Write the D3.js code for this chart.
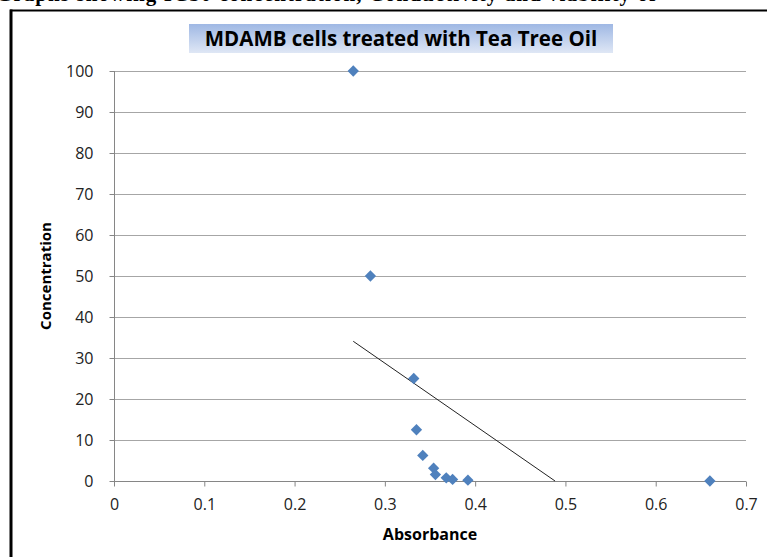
<!DOCTYPE html>
<html>
<head>
<meta charset="utf-8">
<script src="https://cdn.jsdelivr.net/npm/d3@7"></script>
<style>
  body { margin: 0; background: #fff; }
  svg { display: block; }
  text { font-family: "Open Sans", Lato, sans-serif; }
</style>
</head>
<body>
<div id="chart"></div>
<script>
// Absorbance readings and matching concentrations
const absorbance = [0.265, 0.284, 0.332, 0.335, 0.342, 0.354, 0.356, 0.368, 0.375, 0.392, 0.660];
const concentration = [100, 50, 25, 12.5, 6.25, 3.125, 1.5625, 0.78, 0.39, 0.195, 0];
const xTicks = [0, 0.1, 0.2, 0.3, 0.4, 0.5, 0.6, 0.7];
const yTicks = [0, 10, 20, 30, 40, 50, 60, 70, 80, 90, 100];

const chartTitle = "MDAMB cells treated with Tea Tree Oil";
const captionText = "Graphs showing IC50 concentration, Conductivity and viability of";

const W = 767, H = 557;
const margin = { top: 71, left: 114, right: 21, bottom: 76 };
const width = W - margin.left - margin.right,
  height = H - margin.top - margin.bottom;

const svg = d3.select("#chart")
  .append("svg")
  .attr("width", W)
  .attr("height", H);

// caption line of the page, cut off at the top
svg.append("text")
  .attr("x", -4)
  .attr("y", 1)
  .attr("textLength", 660)
  .style("font-family", "'Liberation Serif', serif")
  .style("font-weight", "bold")
  .style("font-size", "21px")
  .text(captionText);

// frame of the chart object
svg.append("line")
  .attr("x1", 10).attr("x2", W).attr("y1", 10.5).attr("y2", 10.5)
  .attr("stroke", "#000").attr("stroke-width", 2);
svg.append("line")
  .attr("x1", 11).attr("x2", 11).attr("y1", 9.5).attr("y2", H)
  .attr("stroke", "#000").attr("stroke-width", 3);

// title with gradient box
const grad = svg.append("defs").append("linearGradient")
  .attr("id", "titleGrad")
  .attr("x1", 0).attr("y1", 0).attr("x2", 0).attr("y2", 1);
grad.append("stop").attr("offset", "0%").attr("stop-color", "#9fb8e4");
grad.append("stop").attr("offset", "100%").attr("stop-color", "#dfe7f5");

svg.append("rect")
  .attr("x", 189).attr("y", 24)
  .attr("width", 424).attr("height", 29)
  .attr("fill", "url(#titleGrad)");

svg.append("text")
  .attr("x", 401)
  .attr("y", 46)
  .attr("text-anchor", "middle")
  .style("font-weight", "bold")
  .style("font-size", "20.5px")
  .style("fill", "#000")
  .text(chartTitle);

const g = svg.append("g")
  .attr("transform", "translate(" + margin.left + "," + margin.top + ")");

const xScale = d3.scaleLinear().domain([0, 0.7]).range([0, width]);
const yScale = d3.scaleLinear().domain([0, 100]).range([height, 0]);

// gridlines
g.append("g")
  .selectAll("line")
  .data(yTicks.filter(d => d > 0))
  .join("line")
  .attr("x1", 0).attr("x2", width)
  .attr("y1", d => Math.round(yScale(d)) + 0.5)
  .attr("y2", d => Math.round(yScale(d)) + 0.5)
  .attr("stroke", "#a6a6a6");

// X axis
const xAxis = g.append("g")
  .attr("transform", "translate(0," + (Math.round(height) + 0.5) + ")")
  .call(d3.axisBottom(xScale).tickValues(xTicks).tickSize(5).tickPadding(12)
    .tickFormat(d => d === 0 ? "0" : d3.format(".1f")(d)));
xAxis.select(".domain").attr("stroke", "#868686").attr("d", "M0,0H" + width);
xAxis.selectAll(".tick line").attr("stroke", "#868686");
xAxis.selectAll("text")
  .style("font-size", "16px")
  .style("font-family", "'Open Sans', Lato, sans-serif")
  .style("fill", "#222");

xAxis.append("text")
  .attr("x", width / 2)
  .attr("y", 58)
  .attr("text-anchor", "middle")
  .style("font-size", "16px")
  .style("font-weight", "bold")
  .style("fill", "#000")
  .text("Absorbance");

// Y axis
const yAxis = g.append("g")
  .attr("transform", "translate(0.5,0)")
  .call(d3.axisLeft(yScale).tickValues(yTicks).tickSize(5).tickPadding(16));
yAxis.select(".domain").attr("stroke", "#868686").attr("d", "M0,0V" + height);
yAxis.selectAll(".tick line").attr("stroke", "#868686");
yAxis.selectAll("text")
  .style("font-size", "16px")
  .style("font-family", "'Open Sans', Lato, sans-serif")
  .style("fill", "#222");

yAxis.append("text")
  .attr("transform", "translate(-64," + yScale(50) + ") rotate(-90)")
  .attr("text-anchor", "middle")
  .style("font-size", "15px")
  .style("font-weight", "bold")
  .style("fill", "#000")
  .text("Concentration");

// linear trendline, clipped to the plot area
const pts = absorbance.map((x, i) => [x, concentration[i]]);
const mx = d3.mean(absorbance), my = d3.mean(concentration);
const slope = d3.sum(pts, p => (p[0] - mx) * (p[1] - my)) / d3.sum(pts, p => (p[0] - mx) ** 2);
const intercept = my - slope * mx;
const xStart = d3.min(absorbance);
const xEnd = Math.min(d3.max(absorbance), -intercept / slope);

g.append("line")
  .attr("x1", xScale(xStart)).attr("y1", yScale(slope * xStart + intercept))
  .attr("x2", xScale(xEnd)).attr("y2", yScale(slope * xEnd + intercept))
  .attr("stroke", "#222")
  .attr("stroke-width", 1);

// diamond markers
g.append("g")
  .selectAll("path")
  .data(pts)
  .join("path")
  .attr("d", d3.symbol().type(d3.symbolSquare).size(64))
  .attr("transform", d => "translate(" + xScale(d[0]) + "," + yScale(d[1]) + ") rotate(45)")
  .attr("fill", "#4f81bd");
</script>
</body>
</html>
